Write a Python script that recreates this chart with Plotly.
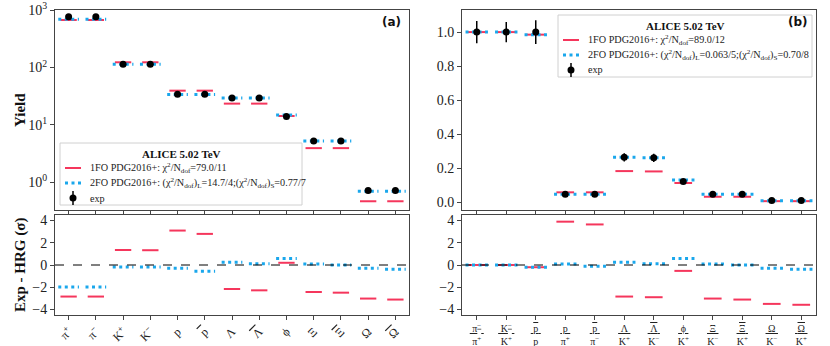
import plotly.graph_objects as go

# --- left panel: yields ---
yield_labels = ["π<sup>+</sup>", "π<sup>−</sup>", "K<sup>+</sup>", "K<sup>−</sup>", "p",
                "<span style='text-decoration:overline'>p</span>", "Λ",
                "<span style='text-decoration:overline'>Λ</span>", "ϕ", "Ξ",
                "<span style='text-decoration:overline'>Ξ</span>", "Ω",
                "<span style='text-decoration:overline'>Ω</span>"]
yield_exp = [760, 760, 114, 114, 34.2, 34.2, 29.5, 29.5, 14.0, 5.27, 5.27, 0.72, 0.72]
yield_exp_err = [30, 30, 5, 5, 1.5, 1.5, 1.5, 1.5, 0.8, 0.3, 0.3, 0.07, 0.07]
yield_1fo = [670, 670, 123, 123, 39.5, 39.5, 23.5, 23.5, 14.3, 3.95, 3.95, 0.47, 0.47]
yield_2fo = [690, 690, 114, 114, 34.0, 34.0, 29.5, 29.5, 14.9, 5.27, 5.27, 0.70, 0.70]
dev_yield_1fo = [-2.84, -2.84, 1.35, 1.33, 3.1, 2.8, -2.16, -2.28, 0.2, -2.43, -2.49, -3.02, -3.11]
dev_yield_2fo = [-1.98, -1.98, -0.18, -0.18, -0.3, -0.56, 0.24, 0.12, 0.59, 0.09, 0.0, -0.3, -0.38]

# --- right panel: ratios ---
def frac(num, den):
    return f"<u>\u00a0{num}\u00a0</u><br>{den}"

ratio_labels = [frac("π<sup>−</sup>", "π<sup>+</sup>"), frac("K<sup>−</sup>", "K<sup>+</sup>"),
                frac("<span style='text-decoration:overline'>p</span>", "p"),
                frac("p", "π<sup>+</sup>"),
                frac("<span style='text-decoration:overline'>p</span>", "π<sup>−</sup>"),
                frac("Λ", "K<sup>+</sup>"),
                frac("<span style='text-decoration:overline'>Λ</span>", "K<sup>−</sup>"),
                frac("ϕ", "K<sup>+</sup>"), frac("Ξ", "K<sup>−</sup>"),
                frac("<span style='text-decoration:overline'>Ξ</span>", "K<sup>+</sup>"),
                frac("Ω", "K<sup>−</sup>"),
                frac("<span style='text-decoration:overline'>Ω</span>", "K<sup>+</sup>")]
ratio_exp = [1.0, 1.0, 1.0, 0.045, 0.045, 0.263, 0.26, 0.12, 0.045, 0.045, 0.0085, 0.0085]
ratio_exp_err = [0.065, 0.06, 0.07, 0.004, 0.004, 0.024, 0.024, 0.01, 0.004, 0.004, 0.001, 0.001]
ratio_1fo = [1.0, 1.0, 0.985, 0.057, 0.057, 0.182, 0.18, 0.112, 0.031, 0.031, 0.005, 0.005]
ratio_2fo = [1.0, 1.0, 0.985, 0.046, 0.046, 0.263, 0.26, 0.13, 0.045, 0.045, 0.008, 0.008]
dev_ratio_1fo = [0.0, 0.0, -0.2, 3.9, 3.65, -2.84, -2.9, -0.53, -3.02, -3.11, -3.5, -3.58]
dev_ratio_2fo = [0.0, 0.0, -0.2, 0.09, -0.12, 0.24, 0.12, 0.59, 0.09, 0.0, -0.3, -0.38]

legend_a = ["1FO PDG2016+: χ<sup>2</sup>/N<sub>dof</sub>=79.0/11",
            "2FO PDG2016+: (χ<sup>2</sup>/N<sub>dof</sub>)<sub>L</sub>=14.7/4;"
            "(χ<sup>2</sup>/N<sub>dof</sub>)<sub>S</sub>=0.77/7",
            "exp"]
legend_b = ["1FO PDG2016+: χ<sup>2</sup>/N<sub>dof</sub>=89.0/12",
            "2FO PDG2016+: (χ<sup>2</sup>/N<sub>dof</sub>)<sub>L</sub>=0.063/5;"
            "(χ<sup>2</sup>/N<sub>dof</sub>)<sub>S</sub>=0.70/8",
            "exp"]

RED = "#f5365c"
BLUE = "#1aa7ec"
FONT = "Liberation Serif"
DOTS = dict(color=BLUE, width=3, dash="3px,3.5px")
W, H = 830, 346


def segs(vals, half):
    xs, ys = [], []
    for i, v in enumerate(vals):
        xs += [i - half, i + half, None]
        ys += [v, v, None]
    return xs, ys


fig = go.Figure()


def add_panel(xa, ya, xa2, ya2, exp, err, fo1, fo2, d1, d2):
    x, y = segs(fo1, 0.3)
    fig.add_trace(go.Scatter(x=x, y=y, mode="lines", line=dict(color=RED, width=2),
                             xaxis=xa, yaxis=ya))
    x, y = segs(fo2, 0.38)
    fig.add_trace(go.Scatter(x=x, y=y, mode="lines", line=DOTS, xaxis=xa, yaxis=ya))
    fig.add_trace(go.Scatter(x=list(range(len(exp))), y=exp, mode="markers",
                             marker=dict(color="black", size=7),
                             error_y=dict(type="data", array=err, color="black",
                                          thickness=1.5, width=0),
                             xaxis=xa, yaxis=ya))
    x, y = segs(d1, 0.3)
    fig.add_trace(go.Scatter(x=x, y=y, mode="lines", line=dict(color=RED, width=2),
                             xaxis=xa2, yaxis=ya2))
    x, y = segs(d2, 0.38)
    fig.add_trace(go.Scatter(x=x, y=y, mode="lines", line=DOTS, xaxis=xa2, yaxis=ya2))


add_panel("x", "y", "x3", "y3", yield_exp, yield_exp_err, yield_1fo, yield_2fo,
          dev_yield_1fo, dev_yield_2fo)
add_panel("x2", "y2", "x4", "y4", ratio_exp, ratio_exp_err, ratio_1fo, ratio_2fo,
          dev_ratio_1fo, dev_ratio_2fo)


def px(x):
    return x / W


def py(y):
    return (H - y) / H


def add_legend(x0, y0, x1, y1, entries):
    fig.add_shape(type="rect", xref="paper", yref="paper", x0=px(x0), x1=px(x1),
                  y0=py(y0), y1=py(y1), line=dict(color="#d0d0d0", width=1),
                  fillcolor="rgba(255,255,255,0.85)", layer="above")
    fig.add_annotation(text="<b>ALICE 5.02 TeV</b>", xref="paper", yref="paper",
                       x=px((x0 + x1) / 2), y=py(y0 + 11), xanchor="center", yanchor="middle",
                       showarrow=False, font=dict(family=FONT, size=11, color="#111"))
    sx0, sx1, tx = x0 + 5, x0 + 21, x0 + 28
    rows = [y0 + 25, y0 + 40, y0 + 55]
    fig.add_shape(type="line", xref="paper", yref="paper", x0=px(sx0), x1=px(sx1),
                  y0=py(rows[0]), y1=py(rows[0]), line=dict(color=RED, width=2), layer="above")
    fig.add_shape(type="line", xref="paper", yref="paper", x0=px(sx0), x1=px(sx1 + 2),
                  y0=py(rows[1]), y1=py(rows[1]), line=DOTS, layer="above")
    cx = (sx0 + sx1) / 2
    fig.add_shape(type="line", xref="paper", yref="paper", x0=px(cx), x1=px(cx),
                  y0=py(rows[2] - 7), y1=py(rows[2] + 7), line=dict(color="black", width=1.5),
                  layer="above")
    fig.add_shape(type="circle", xref="paper", yref="paper", x0=px(cx - 3.5), x1=px(cx + 3.5),
                  y0=py(rows[2] - 3.5), y1=py(rows[2] + 3.5), fillcolor="black",
                  line=dict(color="black", width=0), layer="above")
    for r, t in zip(rows, entries):
        fig.add_annotation(text=t, xref="paper", yref="paper", x=px(tx), y=py(r),
                           xanchor="left", yanchor="middle", showarrow=False,
                           font=dict(family=FONT, size=10.2, color="#222"))


add_legend(60, 143, 302, 205, legend_a)
add_legend(558, 15, 812, 77, legend_b)

LX = [px(55), px(409)]
RX = [px(462), px(816)]
TOP = [py(210), py(10)]
BOT = [py(315), py(215)]

frame = dict(showline=True, mirror=True, linecolor="#444", linewidth=1, ticks="outside",
             ticklen=4, tickcolor="#444", showgrid=False, zeroline=False, automargin=False,
             ticklabeloverflow="allow", tickfont=dict(family=FONT, size=14, color="#222"))

fig.update_layout(
    width=W, height=H, margin=dict(l=0, r=0, t=0, b=0, autoexpand=False),
    paper_bgcolor="white", plot_bgcolor="white", showlegend=False,
    font=dict(family=FONT, color="#222"),
    xaxis=dict(frame, domain=LX, anchor="y", range=[-0.5, 12.5],
               tickvals=list(range(13)), showticklabels=False),
    yaxis=dict(frame, domain=TOP, anchor="x", type="log", range=[-0.48, 3],
               tickvals=[1, 10, 100, 1000],
               ticktext=["10<sup>0</sup>", "10<sup>1</sup>", "10<sup>2</sup>", "10<sup>3</sup>"]),
    xaxis2=dict(frame, domain=RX, anchor="y2", range=[-0.5, 11.5],
                tickvals=list(range(12)), showticklabels=False),
    yaxis2=dict(frame, domain=TOP, anchor="x2", range=[-0.047, 1.13],
                tickvals=[0, 0.2, 0.4, 0.6, 0.8, 1.0], tickformat=".1f"),
    xaxis3=dict(frame, domain=LX, anchor="y3", range=[-0.5, 12.5],
                tickvals=list(range(13)), ticktext=yield_labels, tickangle=-45,
                tickfont=dict(family=FONT, size=12, color="#222")),
    yaxis3=dict(frame, domain=BOT, anchor="x3", range=[-4.5, 4.5], tickvals=[-4, -2, 0, 2, 4],
                ticktext=["−4", "−2", "0", "2", "4"]),
    xaxis4=dict(frame, domain=RX, anchor="y4", range=[-0.5, 11.5],
                tickvals=list(range(12)), ticktext=ratio_labels, tickangle=0,
                tickfont=dict(family=FONT, size=10, color="#222")),
    yaxis4=dict(frame, domain=BOT, anchor="x4", range=[-4.5, 4.5], tickvals=[-4, -2, 0, 2, 4],
                ticktext=["−4", "−2", "0", "2", "4"]),
)

for xa, ya in [("x3", "y3"), ("x4", "y4")]:
    fig.add_shape(type="line", xref=f"{xa} domain", yref=ya, x0=0, x1=1, y0=0, y1=0,
                  line=dict(color="black", width=1, dash="dash"))

# axis titles as fixed-position text
for text, ymid in [("<b>Yield</b>", 110), ("<b>Exp - HRG (σ)</b>", 265)]:
    fig.add_annotation(text=text, xref="paper", yref="paper", x=px(20), y=py(ymid),
                       xanchor="center", yanchor="middle", textangle=-90, showarrow=False,
                       font=dict(family=FONT, size=15, color="#111"))

fig.add_annotation(text="<b>(a)</b>", xref="paper", yref="paper", x=px(403), y=py(22),
                   xanchor="right", yanchor="middle", showarrow=False,
                   font=dict(family="DejaVu Sans", size=12, color="#111"))
fig.add_annotation(text="<b>(b)</b>", xref="paper", yref="paper", x=px(810), y=py(22),
                   xanchor="right", yanchor="middle", showarrow=False,
                   font=dict(family="DejaVu Sans", size=12, color="#111"))

# drop the browser's default 8px body margin so the figure sits at the window corner
fig.write_html("out.html", config={"displayModeBar": False},
               post_script="document.body.style.margin = '0';")
